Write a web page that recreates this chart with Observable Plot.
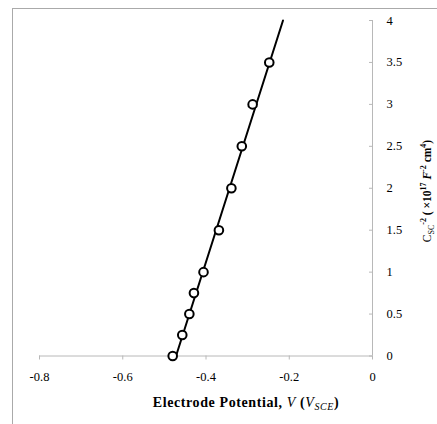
<!DOCTYPE html>
<html>
<head>
<meta charset="utf-8">
<script src="https://cdn.jsdelivr.net/npm/d3@7"></script>
<script src="https://cdn.jsdelivr.net/npm/@observablehq/plot@0.6"></script>
<style>
  body { margin: 0; background: #fff; }
  #wrap { position: relative; width: 437px; height: 424px; overflow: hidden; font-family: 'Liberation Serif', 'Times New Roman', 'DejaVu Serif', serif; }
  #wrap svg { position: absolute; left: 0; top: 0; }
  #wrap svg text { font-family: 'Liberation Serif', 'Times New Roman', 'DejaVu Serif', serif; }
  #frame { position: absolute; left: 12px; top: 8px; width: 440px; height: 430px; border-left: 1px solid #aaa; border-top: 1px solid #aaa; }
  .lab { position: absolute; width: max-content; white-space: nowrap; line-height: 1; font-family: 'Liberation Serif', 'Times New Roman', 'DejaVu Serif', serif; font-weight: bold; color: #000; transform-origin: 0 0; }
  #xlab { left: 246px; top: 404px; font-size: 14px; letter-spacing: 0.6px; transform: translate(-50%, -50%); }
  #xlab sub { font-size: 10px; }
  #ylab { left: 428px; top: 191px; font-size: 11.5px; transform: rotate(-90deg) translate(-50%, -50%); }
  #ylab sub, #ylab sup { font-size: 8px; }
</style>
</head>
<body>
<div id="wrap">
  <div id="frame"></div>
  <div id="xlab" class="lab">Electrode Potential, <i style="font-weight:normal">V</i> (<i style="font-weight:normal">V<sub>SCE</sub></i>)</div>
  <div id="ylab" class="lab"><span style="font-weight:normal">C<sub>SC</sub></span><sup>-2</sup> ( ×10<sup>17</sup> <i>F</i><sup>-2</sup> cm<sup>4</sup>)</div>
</div>
<script>
// Measured data: electrode potential (V vs SCE) and inverse squared capacitance (×10^17 F^-2 cm^4)
const potential = [-0.48, -0.457, -0.44, -0.429, -0.406, -0.369, -0.339, -0.314, -0.288, -0.248];
const cInv2 = [0, 0.25, 0.5, 0.75, 1.0, 1.5, 2.0, 2.5, 3.0, 3.5];
// Mott–Schottky fit line endpoints
const fitV = [-0.472, -0.215];
const fitC = [0, 4];
// Axis ticks
const xTicks = [-0.8, -0.6, -0.4, -0.2, 0];
const yTicks = [0, 0.5, 1, 1.5, 2, 2.5, 3, 3.5, 4];

const points = potential.map((v, i) => ({v, c: cInv2[i]}));
const fit = fitV.map((v, i) => ({v, c: fitC[i]}));

const axisColor = "#b8b8b8";
const chart = Plot.plot({
  width: 437,
  height: 424,
  marginLeft: 39,
  marginRight: 65,
  marginTop: 20,
  marginBottom: 68.5,
  style: {fontFamily: "'Liberation Serif', 'Times New Roman', 'DejaVu Serif', serif", fontSize: "12.5px", background: "transparent"},
  x: {domain: [-0.8, 0]},
  y: {domain: [0, 4]},
  marks: [
    Plot.ruleY([0], {stroke: axisColor, strokeWidth: 1}),
    Plot.ruleX([0], {stroke: axisColor, strokeWidth: 1}),
    Plot.axisX({ticks: xTicks, tickFormat: d => String(d), tickSize: 4, tickPadding: 12, stroke: axisColor, color: "#000", label: null}),
    Plot.axisY({anchor: "right", ticks: yTicks, tickFormat: d => String(d), tickSize: -4, tickPadding: 18, stroke: axisColor, color: "#000", label: null}),
    Plot.line(fit, {x: "v", y: "c", stroke: "#000", strokeWidth: 2}),
    Plot.dot(points, {x: "v", y: "c", r: 4.3, stroke: "#000", strokeWidth: 2, fill: "#fff"})
  ]
});
document.getElementById("wrap").appendChild(chart);
</script>
</body>
</html>
